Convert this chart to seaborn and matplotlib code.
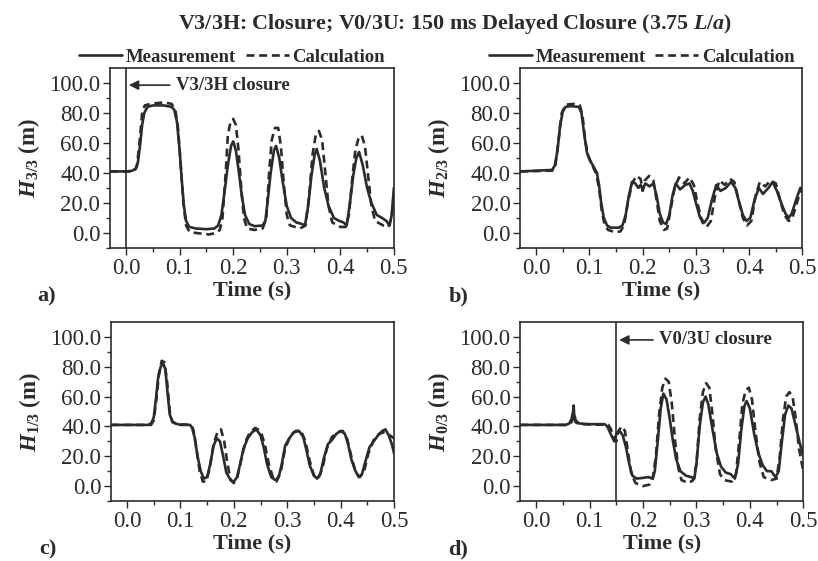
import numpy as np
import pandas as pd
import matplotlib.pyplot as plt
import seaborn as sns

# panel a: H 3/3
t_a_meas = [-0.03, 0.0, 0.012, 0.018, 0.022, 0.026, 0.03, 0.034, 0.04, 0.05, 0.07, 0.085, 0.09, 0.095, 0.1, 0.104, 0.108, 0.112, 0.118, 0.13, 0.15, 0.165, 0.172, 0.178, 0.184, 0.19, 0.196, 0.2, 0.205, 0.21, 0.216, 0.222, 0.23, 0.24, 0.255, 0.26, 0.264, 0.27, 0.276, 0.28, 0.286, 0.292, 0.3, 0.308, 0.318, 0.328, 0.334, 0.34, 0.346, 0.352, 0.356, 0.362, 0.37, 0.378, 0.388, 0.398, 0.406, 0.412, 0.418, 0.424, 0.43, 0.435, 0.442, 0.45, 0.458, 0.468, 0.478, 0.486, 0.492, 0.496, 0.5]
h_a_meas = [41, 41, 41.5, 43, 47, 58, 72, 80, 84, 85, 85, 84, 82, 74, 55, 35, 18, 8, 4, 3, 2.5, 3, 5, 12, 28, 45, 58, 61, 55, 42, 25, 12, 6, 4.5, 5, 8, 20, 40, 55, 58, 50, 35, 18, 10, 7, 6, 5, 18, 38, 52, 56, 48, 30, 18, 10, 8, 7, 5, 20, 38, 50, 54, 45, 30, 20, 12, 10, 8, 5, 12, 30]
t_a_calc = [-0.03, 0.015, 0.02, 0.025, 0.03, 0.035, 0.045, 0.07, 0.085, 0.092, 0.097, 0.102, 0.107, 0.112, 0.118, 0.13, 0.155, 0.168, 0.175, 0.18, 0.186, 0.19, 0.195, 0.2, 0.205, 0.21, 0.215, 0.22, 0.226, 0.24, 0.255, 0.262, 0.267, 0.272, 0.278, 0.284, 0.289, 0.294, 0.3, 0.306, 0.325, 0.335, 0.342, 0.348, 0.354, 0.36, 0.366, 0.372, 0.378, 0.385, 0.4, 0.41, 0.416, 0.422, 0.428, 0.434, 0.44, 0.446, 0.452, 0.458, 0.465, 0.48, 0.49, 0.495, 0.5]
h_a_calc = [41, 41, 44, 60, 80, 85, 86, 87, 86, 82, 70, 45, 20, 5, 1, 0, -1, 0, 2, 10, 40, 65, 74, 76, 72, 55, 30, 10, 3, 2, 3, 10, 40, 62, 70, 70, 58, 35, 12, 5, 3, 5, 25, 52, 65, 68, 62, 40, 18, 7, 4, 4, 12, 35, 55, 63, 65, 58, 38, 18, 8, 5, 4, 10, 22]

# panel b: H 2/3
t_b_meas = [-0.03, 0.03, 0.035, 0.04, 0.045, 0.05, 0.055, 0.065, 0.08, 0.085, 0.09, 0.095, 0.1, 0.108, 0.114, 0.118, 0.122, 0.127, 0.133, 0.14, 0.155, 0.162, 0.168, 0.174, 0.18, 0.186, 0.192, 0.196, 0.2, 0.205, 0.213, 0.22, 0.226, 0.232, 0.238, 0.244, 0.25, 0.256, 0.262, 0.27, 0.28, 0.288, 0.294, 0.3, 0.308, 0.316, 0.322, 0.33, 0.338, 0.346, 0.356, 0.366, 0.374, 0.38, 0.388, 0.395, 0.402, 0.41, 0.418, 0.426, 0.436, 0.444, 0.452, 0.46, 0.468, 0.474, 0.48, 0.488, 0.496, 0.5]
h_b_meas = [41, 42, 45, 55, 72, 81, 84, 84.5, 84, 80, 66, 54, 49, 44, 40, 32, 20, 10, 5, 3.5, 3.5, 5, 12, 25, 34, 33, 30, 32, 29, 33, 31, 33, 25, 13, 7, 6, 12, 25, 33, 29, 32, 33, 28, 20, 10, 7, 10, 22, 32, 28, 30, 34, 30, 22, 12, 8, 10, 22, 30, 26, 30, 34, 28, 20, 13, 10, 13, 22, 30, 30]
t_b_calc = [-0.03, 0.03, 0.036, 0.042, 0.048, 0.055, 0.07, 0.082, 0.087, 0.092, 0.097, 0.104, 0.112, 0.118, 0.123, 0.128, 0.135, 0.148, 0.158, 0.165, 0.172, 0.18, 0.188, 0.196, 0.2, 0.204, 0.212, 0.22, 0.226, 0.232, 0.24, 0.246, 0.252, 0.26, 0.268, 0.278, 0.288, 0.296, 0.304, 0.312, 0.32, 0.328, 0.336, 0.344, 0.354, 0.364, 0.372, 0.38, 0.388, 0.396, 0.404, 0.412, 0.42, 0.43, 0.44, 0.45, 0.458, 0.466, 0.474, 0.48, 0.488, 0.496, 0.5]
h_b_calc = [41, 41.5, 45, 62, 80, 85.5, 86, 85, 78, 62, 52, 46, 40, 30, 15, 6, 2, 0.5, 1, 5, 20, 33, 38, 36, 28, 35, 38, 35, 22, 8, 2, 3, 15, 30, 37, 33, 37, 32, 18, 7, 4, 8, 25, 35, 32, 36, 34, 22, 10, 5, 8, 25, 34, 31, 35, 33, 22, 12, 8, 9, 18, 28, 28]

# panel c: H 1/3
t_c_meas = [-0.03, 0.04, 0.046, 0.05, 0.054, 0.058, 0.063, 0.068, 0.072, 0.076, 0.08, 0.085, 0.09, 0.1, 0.118, 0.122, 0.127, 0.132, 0.138, 0.144, 0.15, 0.156, 0.162, 0.168, 0.174, 0.18, 0.186, 0.194, 0.2, 0.206, 0.212, 0.218, 0.226, 0.234, 0.242, 0.25, 0.256, 0.262, 0.27, 0.278, 0.284, 0.29, 0.296, 0.304, 0.312, 0.322, 0.33, 0.336, 0.342, 0.35, 0.356, 0.362, 0.368, 0.376, 0.384, 0.392, 0.4, 0.408, 0.414, 0.42, 0.428, 0.434, 0.44, 0.446, 0.454, 0.462, 0.47, 0.478, 0.484, 0.49, 0.496, 0.5]
h_c_meas = [41, 41, 42.5, 46, 58, 72, 80, 82, 78, 62, 48, 43, 42, 41, 41, 39, 32, 20, 10, 5, 6, 15, 27, 32, 30, 20, 9, 4, 3, 6, 15, 25, 32, 36, 38, 34, 26, 15, 6, 4, 6, 15, 27, 32, 36, 37, 33, 24, 14, 7, 5, 8, 18, 28, 31, 35, 37, 35, 28, 18, 10, 6, 8, 16, 26, 30, 34, 37, 38, 34, 28, 22]
t_c_calc = [-0.03, 0.045, 0.05, 0.055, 0.06, 0.065, 0.07, 0.075, 0.08, 0.085, 0.095, 0.12, 0.124, 0.13, 0.136, 0.142, 0.148, 0.155, 0.162, 0.17, 0.176, 0.182, 0.188, 0.194, 0.2, 0.206, 0.214, 0.222, 0.23, 0.24, 0.25, 0.258, 0.266, 0.274, 0.28, 0.288, 0.296, 0.306, 0.316, 0.326, 0.334, 0.342, 0.35, 0.358, 0.366, 0.374, 0.384, 0.394, 0.404, 0.412, 0.42, 0.428, 0.436, 0.444, 0.452, 0.462, 0.472, 0.48, 0.488, 0.496, 0.5]
h_c_calc = [41, 41, 44, 58, 76, 84, 83, 70, 50, 43, 41.5, 41, 38, 25, 10, 3, 3, 12, 28, 37, 38, 30, 15, 4, 2, 5, 18, 30, 36, 39, 37, 28, 14, 5, 3, 10, 25, 34, 37, 37, 30, 17, 7, 5, 12, 25, 33, 36, 37, 32, 20, 9, 6, 10, 22, 31, 35, 36, 35, 33, 32]

# panel d: H 0/3
t_d_meas = [-0.03, 0.055, 0.062, 0.066, 0.069, 0.07, 0.071, 0.074, 0.08, 0.1, 0.128, 0.133, 0.138, 0.142, 0.146, 0.15, 0.156, 0.162, 0.168, 0.174, 0.18, 0.188, 0.2, 0.21, 0.218, 0.222, 0.228, 0.233, 0.238, 0.244, 0.25, 0.256, 0.262, 0.27, 0.28, 0.29, 0.296, 0.3, 0.306, 0.312, 0.317, 0.322, 0.33, 0.338, 0.346, 0.355, 0.364, 0.372, 0.378, 0.384, 0.39, 0.394, 0.4, 0.408, 0.416, 0.424, 0.432, 0.44, 0.448, 0.454, 0.46, 0.466, 0.472, 0.478, 0.486, 0.494, 0.5]
h_d_meas = [41, 41, 42, 45, 50, 54, 48, 44, 42, 41.5, 41.5, 40, 36, 33, 30, 35, 37, 34, 26, 15, 7, 5, 5.5, 6, 5, 10, 32, 52, 62, 58, 45, 30, 18, 10, 7, 6, 5, 15, 40, 56, 60, 55, 38, 22, 13, 9, 8, 5, 15, 38, 54, 57, 52, 35, 22, 14, 10, 10, 6, 10, 30, 48, 54, 52, 40, 28, 20]
t_d_calc = [-0.03, 0.06, 0.066, 0.07, 0.073, 0.08, 0.135, 0.14, 0.145, 0.15, 0.154, 0.16, 0.166, 0.172, 0.178, 0.186, 0.2, 0.212, 0.218, 0.224, 0.23, 0.236, 0.242, 0.248, 0.254, 0.26, 0.266, 0.272, 0.285, 0.294, 0.3, 0.306, 0.312, 0.318, 0.324, 0.33, 0.336, 0.344, 0.352, 0.366, 0.374, 0.38, 0.386, 0.392, 0.398, 0.404, 0.41, 0.418, 0.426, 0.44, 0.45, 0.456, 0.462, 0.468, 0.474, 0.48, 0.486, 0.492, 0.5]
h_d_calc = [41, 41, 43, 48, 43, 41.5, 41, 38, 33, 30, 37, 40, 37, 22, 8, 2, 0, 1, 5, 20, 48, 66, 72, 70, 55, 30, 12, 4, 2, 4, 15, 45, 63, 69, 66, 48, 25, 8, 4, 3, 8, 30, 55, 64, 66, 58, 38, 16, 6, 4, 5, 20, 45, 60, 63, 60, 45, 25, 10]

ylabels = [r'$\mathbfit{H}_{\mathbf{3/3}}$ (m)', r'$\mathbfit{H}_{\mathbf{2/3}}$ (m)',
           r'$\mathbfit{H}_{\mathbf{1/3}}$ (m)', r'$\mathbfit{H}_{\mathbf{0/3}}$ (m)']
panel_tags = ['a)', 'b)', 'c)', 'd)']

sns.set_style('ticks')
plt.rcParams['font.family'] = ['Liberation Serif', 'DejaVu Serif']
plt.rcParams['mathtext.fontset'] = 'custom'
plt.rcParams['mathtext.rm'] = 'Liberation Serif'
plt.rcParams['mathtext.bf'] = 'Liberation Serif:bold'
plt.rcParams['mathtext.it'] = 'Liberation Serif:italic'
plt.rcParams['mathtext.bfit'] = 'Liberation Serif:bold:italic'

ink = '#2b2b2b'

fig = plt.figure(figsize=(8.18, 5.61), dpi=100)
rects = [[0.1345, 0.558, 0.347, 0.321], [0.636, 0.558, 0.345, 0.321],
         [0.1357, 0.107, 0.346, 0.319], [0.636, 0.107, 0.346, 0.319]]

series = [(t_a_meas, h_a_meas, t_a_calc, h_a_calc), (t_b_meas, h_b_meas, t_b_calc, h_b_calc),
          (t_c_meas, h_c_meas, t_c_calc, h_c_calc), (t_d_meas, h_d_meas, t_d_calc, h_d_calc)]

axes = []
for i in range(4):
    ax = fig.add_axes(rects[i])
    tm, hm, tc, hc = series[i]
    df = pd.concat([pd.DataFrame({'Time': tm, 'H': hm, 'Series': 'Measurement'}),
                    pd.DataFrame({'Time': tc, 'H': hc, 'Series': 'Calculation'})])
    sns.lineplot(data=df, x='Time', y='H', style='Series',
                 dashes={'Measurement': '', 'Calculation': (3, 1.8)},
                 color=ink, linewidth=1.9, estimator=None, sort=False,
                 legend=False, ax=ax)
    ax.set_xlim(-0.03, 0.5)
    ax.set_ylim(-10, 110)
    ax.set_xticks(np.arange(0, 0.51, 0.1))
    ax.set_xticks(np.arange(-0.0, 0.51, 0.05), minor=True)
    ax.set_yticks(np.arange(0, 101, 20))
    ax.set_yticks(np.arange(-10, 101, 10), minor=True)
    ax.set_xticklabels(['%.1f' % v for v in np.arange(0, 0.51, 0.1)])
    ax.set_yticklabels(['%.1f' % v for v in np.arange(0, 101, 20)])
    ax.tick_params(which='major', direction='out', length=5, width=1, colors=ink,
                   labelsize=16.5, top=False, right=False, pad=2)
    ax.tick_params(which='minor', direction='out', length=3, width=1, colors=ink,
                   top=False, right=False)
    for s in ax.spines.values():
        s.set_visible(True)
        s.set_color(ink)
        s.set_linewidth(1.2)
    ax.set_xlabel('Time (s)', fontsize=16, fontweight='bold', color=ink, labelpad=1)
    ax.set_ylabel(ylabels[i], fontsize=16.5, fontweight='bold', color=ink, labelpad=5)
    ax.text(-0.255, -0.27, panel_tags[i], transform=ax.transAxes, fontsize=16,
            fontweight='bold', color=ink, va='center')
    axes.append(ax)

# closure markers
axes[0].axvline(0.0, color=ink, linewidth=1.2)
axes[0].annotate('V3/3H closure', xy=(0.0, 98.5), xytext=(0.093, 98.5),
                 fontsize=13.5, fontweight='bold', color=ink, va='center',
                 arrowprops=dict(arrowstyle='-|>', color=ink, lw=1.2, mutation_scale=14))
axes[3].axvline(0.15, color=ink, linewidth=1.2)
axes[3].annotate('V0/3U closure', xy=(0.15, 98), xytext=(0.23, 98),
                 fontsize=13.5, fontweight='bold', color=ink, va='center',
                 arrowprops=dict(arrowstyle='-|>', color=ink, lw=1.2, mutation_scale=14))

# legends above the top panels
for ax in axes[:2]:
    handles = ax.get_lines()[:2]
    ax.legend(handles, ['Measurement', 'Calculation'], ncol=2, frameon=False,
              loc='lower center', bbox_to_anchor=(0.43, 0.97),
              prop={'weight': 'bold', 'size': 13.5}, handlelength=2.3,
              handletextpad=0.2, columnspacing=0.5, borderaxespad=0.0,
              labelcolor=ink)

fig.text(0.556, 0.957, r'V3/3H: Closure; V0/3U: 150 ms Delayed Closure (3.75 $\mathbfit{L}$/$\mathbfit{a}$)',
         ha='center', va='center', fontsize=15.8, fontweight='bold', color=ink)

fig.savefig('out.png', dpi=100, facecolor='white')
